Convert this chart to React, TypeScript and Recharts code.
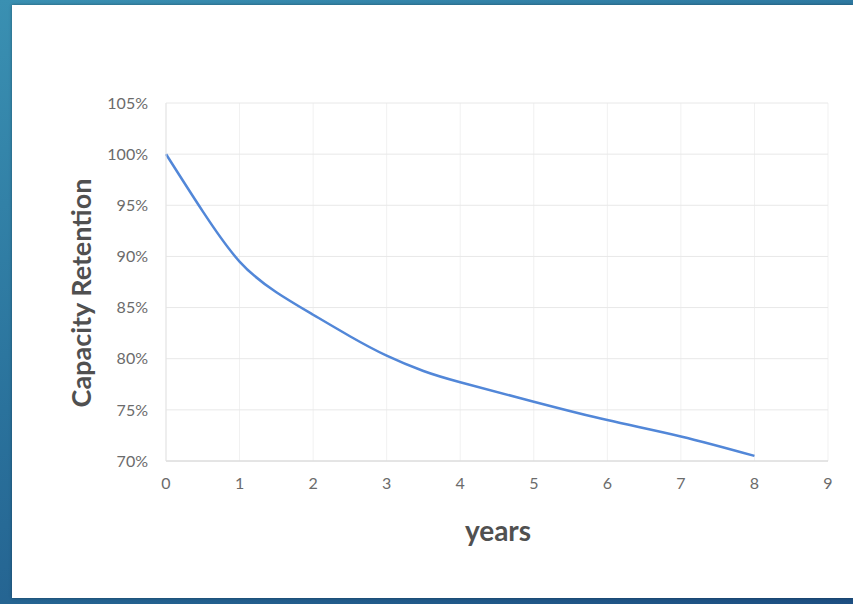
import { CartesianGrid, Label, Line, LineChart, XAxis, YAxis } from "recharts";

// capacity retention (%) over service years
const years = [0, 0.5, 1, 1.5, 2, 2.5, 3, 3.5, 4, 5, 6, 7, 8];
const retention = [100, 94.4, 89.5, 86.5, 84.3, 82.2, 80.3, 78.8, 77.7, 75.8, 74.0, 72.4, 70.5];

const xTicks = [0, 1, 2, 3, 4, 5, 6, 7, 8, 9];
const yTicks = [70, 75, 80, 85, 90, 95, 100, 105];

const data = years.map((year, i) => ({ year, retention: retention[i] }));

const FONT = "Lato, 'Open Sans', sans-serif";
const tickStyle = { fill: "#6b6b6b", fontSize: 16, fontFamily: FONT };

function YTitle({ viewBox }: any) {
  const cx = viewBox.x + viewBox.width / 2 - 3;
  const cy = viewBox.y + viewBox.height / 2 + 11;
  return (
    <text
      x={cx}
      y={cy}
      transform={`rotate(-90 ${cx} ${cy})`}
      textAnchor='middle'
      dominantBaseline='central'
      fill='#505050'
      fontSize={27}
      fontWeight={700}
      fontFamily={FONT}
    >
      Capacity Retention
    </text>
  );
}

function XTitle({ viewBox }: any) {
  const cx = viewBox.x + viewBox.width / 2 + 1;
  const cy = viewBox.y + 69;
  return (
    <text x={cx} y={cy} textAnchor='middle' dominantBaseline='central' fill='#505050' fontSize={28} fontWeight={700} fontFamily={FONT}>
      years
    </text>
  );
}

export default function App() {
  return (
    <div
      style={{
        position: "absolute",
        left: 0,
        top: 0,
        width: 853,
        height: 604,
        overflow: "hidden",
        background: "linear-gradient(160deg, #3a90b2 0%, #2a729c 45%, #1d4f82 100%)",
      }}
    >
      <div
        style={{
          position: "absolute",
          left: 12,
          top: 5,
          width: 841,
          height: 593,
          background: "#fff",
          boxShadow: "0 0 3px rgba(0,0,0,0.35)",
        }}
      />
      <div style={{ position: "absolute", left: 0, top: 0 }}>
        <LineChart width={853} height={604} data={data} margin={{ top: 103, right: 25, bottom: 53, left: 0 }}>
          <CartesianGrid horizontal={false} stroke='#f1f1f1' />
          <CartesianGrid vertical={false} stroke='#e8e8e8' />
          <XAxis
            type='number'
            dataKey='year'
            domain={[0, 9]}
            ticks={xTicks}
            height={90}
            tick={tickStyle}
            tickLine={false}
            tickMargin={11}
            axisLine={{ stroke: "#d6d6d6" }}
          >
            <Label content={<XTitle />} />
          </XAxis>
          <YAxis
            type='number'
            domain={[70, 105]}
            ticks={yTicks}
            width={166}
            tick={tickStyle}
            tickLine={false}
            tickMargin={12}
            tickFormatter={(v: number) => `${v}%`}
            axisLine={{ stroke: "#e4e4e4" }}
          >
            <Label content={<YTitle />} />
          </YAxis>
          <Line
            type='natural'
            dataKey='retention'
            stroke='#5287d8'
            strokeWidth={2.5}
            dot={false}
            isAnimationActive={false}
          />
        </LineChart>
      </div>
    </div>
  );
}
